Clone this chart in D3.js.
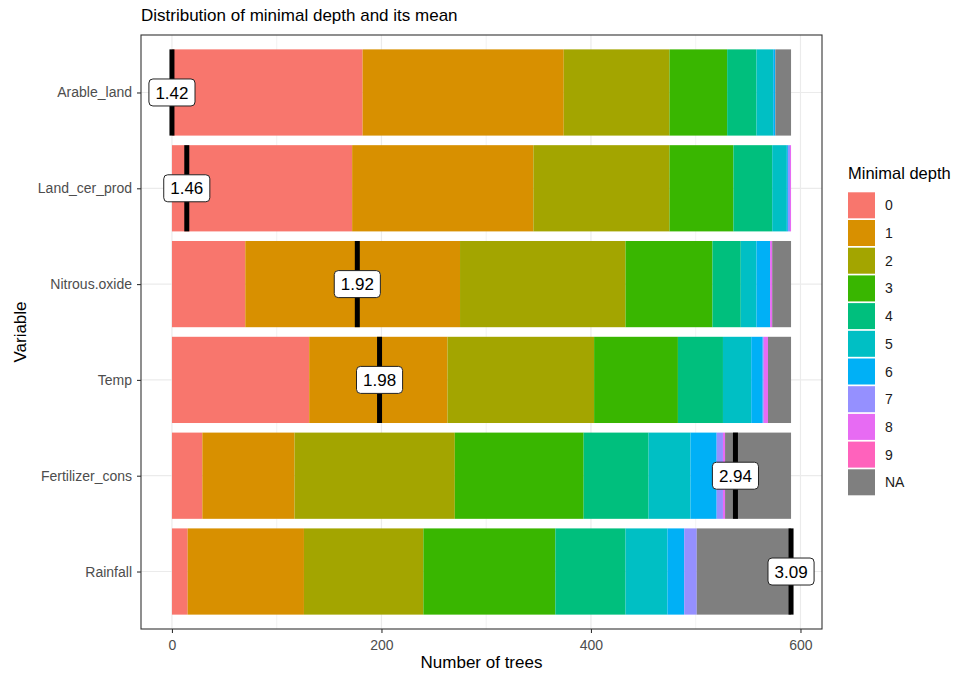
<!DOCTYPE html>
<html>
<head>
<meta charset="utf-8">
<script src="https://cdn.jsdelivr.net/npm/d3@7"></script>
<style>
  body { margin: 0; background: #fff; }
  text { font-family: "Liberation Sans", Arial, Helvetica, sans-serif; }
</style>
</head>
<body>
<svg id="chart" width="962" height="675"></svg>
<script>
// Variables, top to bottom (ordered by mean minimal depth)
const variables = ["Arable_land", "Land_cer_prod", "Nitrous.oxide", "Temp", "Fertilizer_cons", "Rainfall"];
// Minimal depth levels
const depthLevels = ["0", "1", "2", "3", "4", "5", "6", "7", "8", "9", "NA"];
// Number of trees per minimal depth level (same order as depthLevels)
const arableLand     = [182, 192, 101,  55, 28, 16,  2,  0, 0, 0, 15];
const landCerProd    = [172, 173, 130,  61, 37, 14,  1,  2, 1, 0,  0];
const nitrousOxide   = [ 70, 205, 158,  83, 27, 15, 13,  0, 2, 0, 18];
const temp           = [131, 132, 140,  80, 43, 27, 11,  1, 4, 0, 22];
const fertilizerCons = [ 29,  88, 153, 123, 62, 40, 25,  6, 2, 0, 63];
const rainfall       = [ 15, 111, 114, 126, 67, 40, 16, 12, 0, 0, 90];
// Mean minimal depth per variable
const meanDepth = [1.42, 1.46, 1.92, 1.98, 2.94, 3.09];
// Axis ticks
const xTicks = [0, 200, 400, 600];
const xMinorTicks = [100, 300, 500];
// Fill colours per depth level
const depthColors = ["#F8766D", "#D89000", "#A3A500", "#39B600", "#00BF7D", "#00BFC4",
                     "#00B0F6", "#9590FF", "#E76BF3", "#FF62BC", "#7F7F7F"];

const countsByVariable = [arableLand, landCerProd, nitrousOxide, temp, fertilizerCons, rainfall];
const table = variables.map((v, i) => {
  const row = { variable: v };
  depthLevels.forEach((d, j) => { row[d] = countsByVariable[i][j]; });
  return row;
});

const svg = d3.select("#chart");
const panel = { left: 141, right: 822, top: 35, bottom: 629 };

const nTrees = d3.max(countsByVariable, c => d3.sum(c));
const x = d3.scaleLinear()
  .domain([-0.05 * nTrees, 1.05 * nTrees])
  .range([panel.left, panel.right]);
const y = d3.scalePoint()
  .domain(variables)
  .range([panel.top, panel.bottom])
  .padding(0.6);
const barH = y.step() * 0.9;
const color = d3.scaleOrdinal().domain(depthLevels).range(depthColors);

// Panel background and grid
svg.append("rect")
  .attr("x", panel.left).attr("y", panel.top)
  .attr("width", panel.right - panel.left).attr("height", panel.bottom - panel.top)
  .attr("fill", "#fff");
const grid = svg.append("g");
grid.selectAll("line.minor").data(xMinorTicks).join("line")
  .attr("x1", d => x(d)).attr("x2", d => x(d))
  .attr("y1", panel.top).attr("y2", panel.bottom)
  .attr("stroke", "#EBEBEB").attr("stroke-width", 0.6);
grid.selectAll("line.majorx").data(xTicks).join("line")
  .attr("x1", d => x(d)).attr("x2", d => x(d))
  .attr("y1", panel.top).attr("y2", panel.bottom)
  .attr("stroke", "#EBEBEB").attr("stroke-width", 1.2);
grid.selectAll("line.majory").data(variables).join("line")
  .attr("x1", panel.left).attr("x2", panel.right)
  .attr("y1", d => y(d)).attr("y2", d => y(d))
  .attr("stroke", "#EBEBEB").attr("stroke-width", 1.2);

// Stacked bars
const stacked = d3.stack().keys(depthLevels)(table);
svg.append("g").selectAll("g").data(stacked).join("g")
  .attr("fill", d => color(d.key))
  .selectAll("rect").data(d => d).join("rect")
  .attr("x", d => x(d[0]))
  .attr("width", d => Math.max(0, x(d[1]) - x(d[0])))
  .attr("y", d => y(d.data.variable) - barH / 2)
  .attr("height", barH);

// Mean minimal depth marker, rescaled onto the tree-count axis
const mMin = d3.min(meanDepth), mMax = d3.max(meanDepth);
const markerPos = meanDepth.map(m => (m - mMin) / (mMax - mMin) * nTrees);

svg.append("g").selectAll("line").data(variables).join("line")
  .attr("x1", (d, i) => x(markerPos[i])).attr("x2", (d, i) => x(markerPos[i]))
  .attr("y1", d => y(d) - barH / 2).attr("y2", d => y(d) + barH / 2)
  .attr("stroke", "#000").attr("stroke-width", 5);

// Mean value labels
const labels = svg.append("g").selectAll("g").data(variables).join("g")
  .attr("transform", (d, i) => `translate(${x(markerPos[i])},${y(d)})`);
labels.each(function(d, i) {
  const g = d3.select(this);
  const t = g.append("text")
    .attr("text-anchor", "middle").attr("dy", "0.36em")
    .attr("font-size", 17).attr("fill", "#000")
    .text(meanDepth[i].toFixed(2));
  const w = t.node().getComputedTextLength() + 13;
  const h = 27;
  g.insert("rect", "text")
    .attr("x", -w / 2).attr("y", -h / 2)
    .attr("width", w).attr("height", h)
    .attr("rx", 4).attr("ry", 4)
    .attr("fill", "#fff").attr("stroke", "#222").attr("stroke-width", 1);
});

// Panel border
svg.append("rect")
  .attr("x", panel.left).attr("y", panel.top)
  .attr("width", panel.right - panel.left).attr("height", panel.bottom - panel.top)
  .attr("fill", "none").attr("stroke", "#333").attr("stroke-width", 1.1);

// Axes
const xAxis = svg.append("g")
  .attr("transform", `translate(0,${panel.bottom})`)
  .call(d3.axisBottom(x).tickValues(xTicks).tickSize(4).tickPadding(7).tickFormat(d3.format("d")));
const yAxis = svg.append("g")
  .attr("transform", `translate(${panel.left},0)`)
  .call(d3.axisLeft(y).tickSize(4).tickPadding(5));
[xAxis, yAxis].forEach(a => {
  a.select(".domain").remove();
  a.selectAll(".tick line").attr("stroke", "#333").attr("stroke-width", 1.1);
  a.selectAll(".tick text").attr("fill", "#4D4D4D").attr("font-size", 14)
    .attr("font-family", "\"Liberation Sans\", Arial, sans-serif");
});

// Titles
svg.append("text")
  .attr("x", panel.left).attr("y", 21)
  .attr("font-size", 17).attr("fill", "#000")
  .text("Distribution of minimal depth and its mean");
svg.append("text")
  .attr("x", (panel.left + panel.right) / 2).attr("y", 668)
  .attr("text-anchor", "middle").attr("font-size", 17).attr("fill", "#000")
  .text("Number of trees");
svg.append("text")
  .attr("transform", `translate(26,${(panel.top + panel.bottom) / 2}) rotate(-90)`)
  .attr("text-anchor", "middle").attr("font-size", 17).attr("fill", "#000")
  .text("Variable");

// Legend
const legend = svg.append("g").attr("transform", "translate(848,0)");
legend.append("text")
  .attr("x", 0).attr("y", 179)
  .attr("font-size", 16.5).attr("fill", "#000")
  .text("Minimal depth");
const keys = legend.selectAll("g.key").data(depthLevels).join("g")
  .attr("transform", (d, i) => `translate(0,${192.3 + i * 27.7})`);
keys.append("rect")
  .attr("width", 27).attr("height", 26)
  .attr("fill", d => color(d));
keys.append("text")
  .attr("x", 37).attr("y", 13).attr("dy", "0.36em")
  .attr("font-size", 14).attr("fill", "#1A1A1A")
  .text(d => d);
</script>
</body>
</html>
